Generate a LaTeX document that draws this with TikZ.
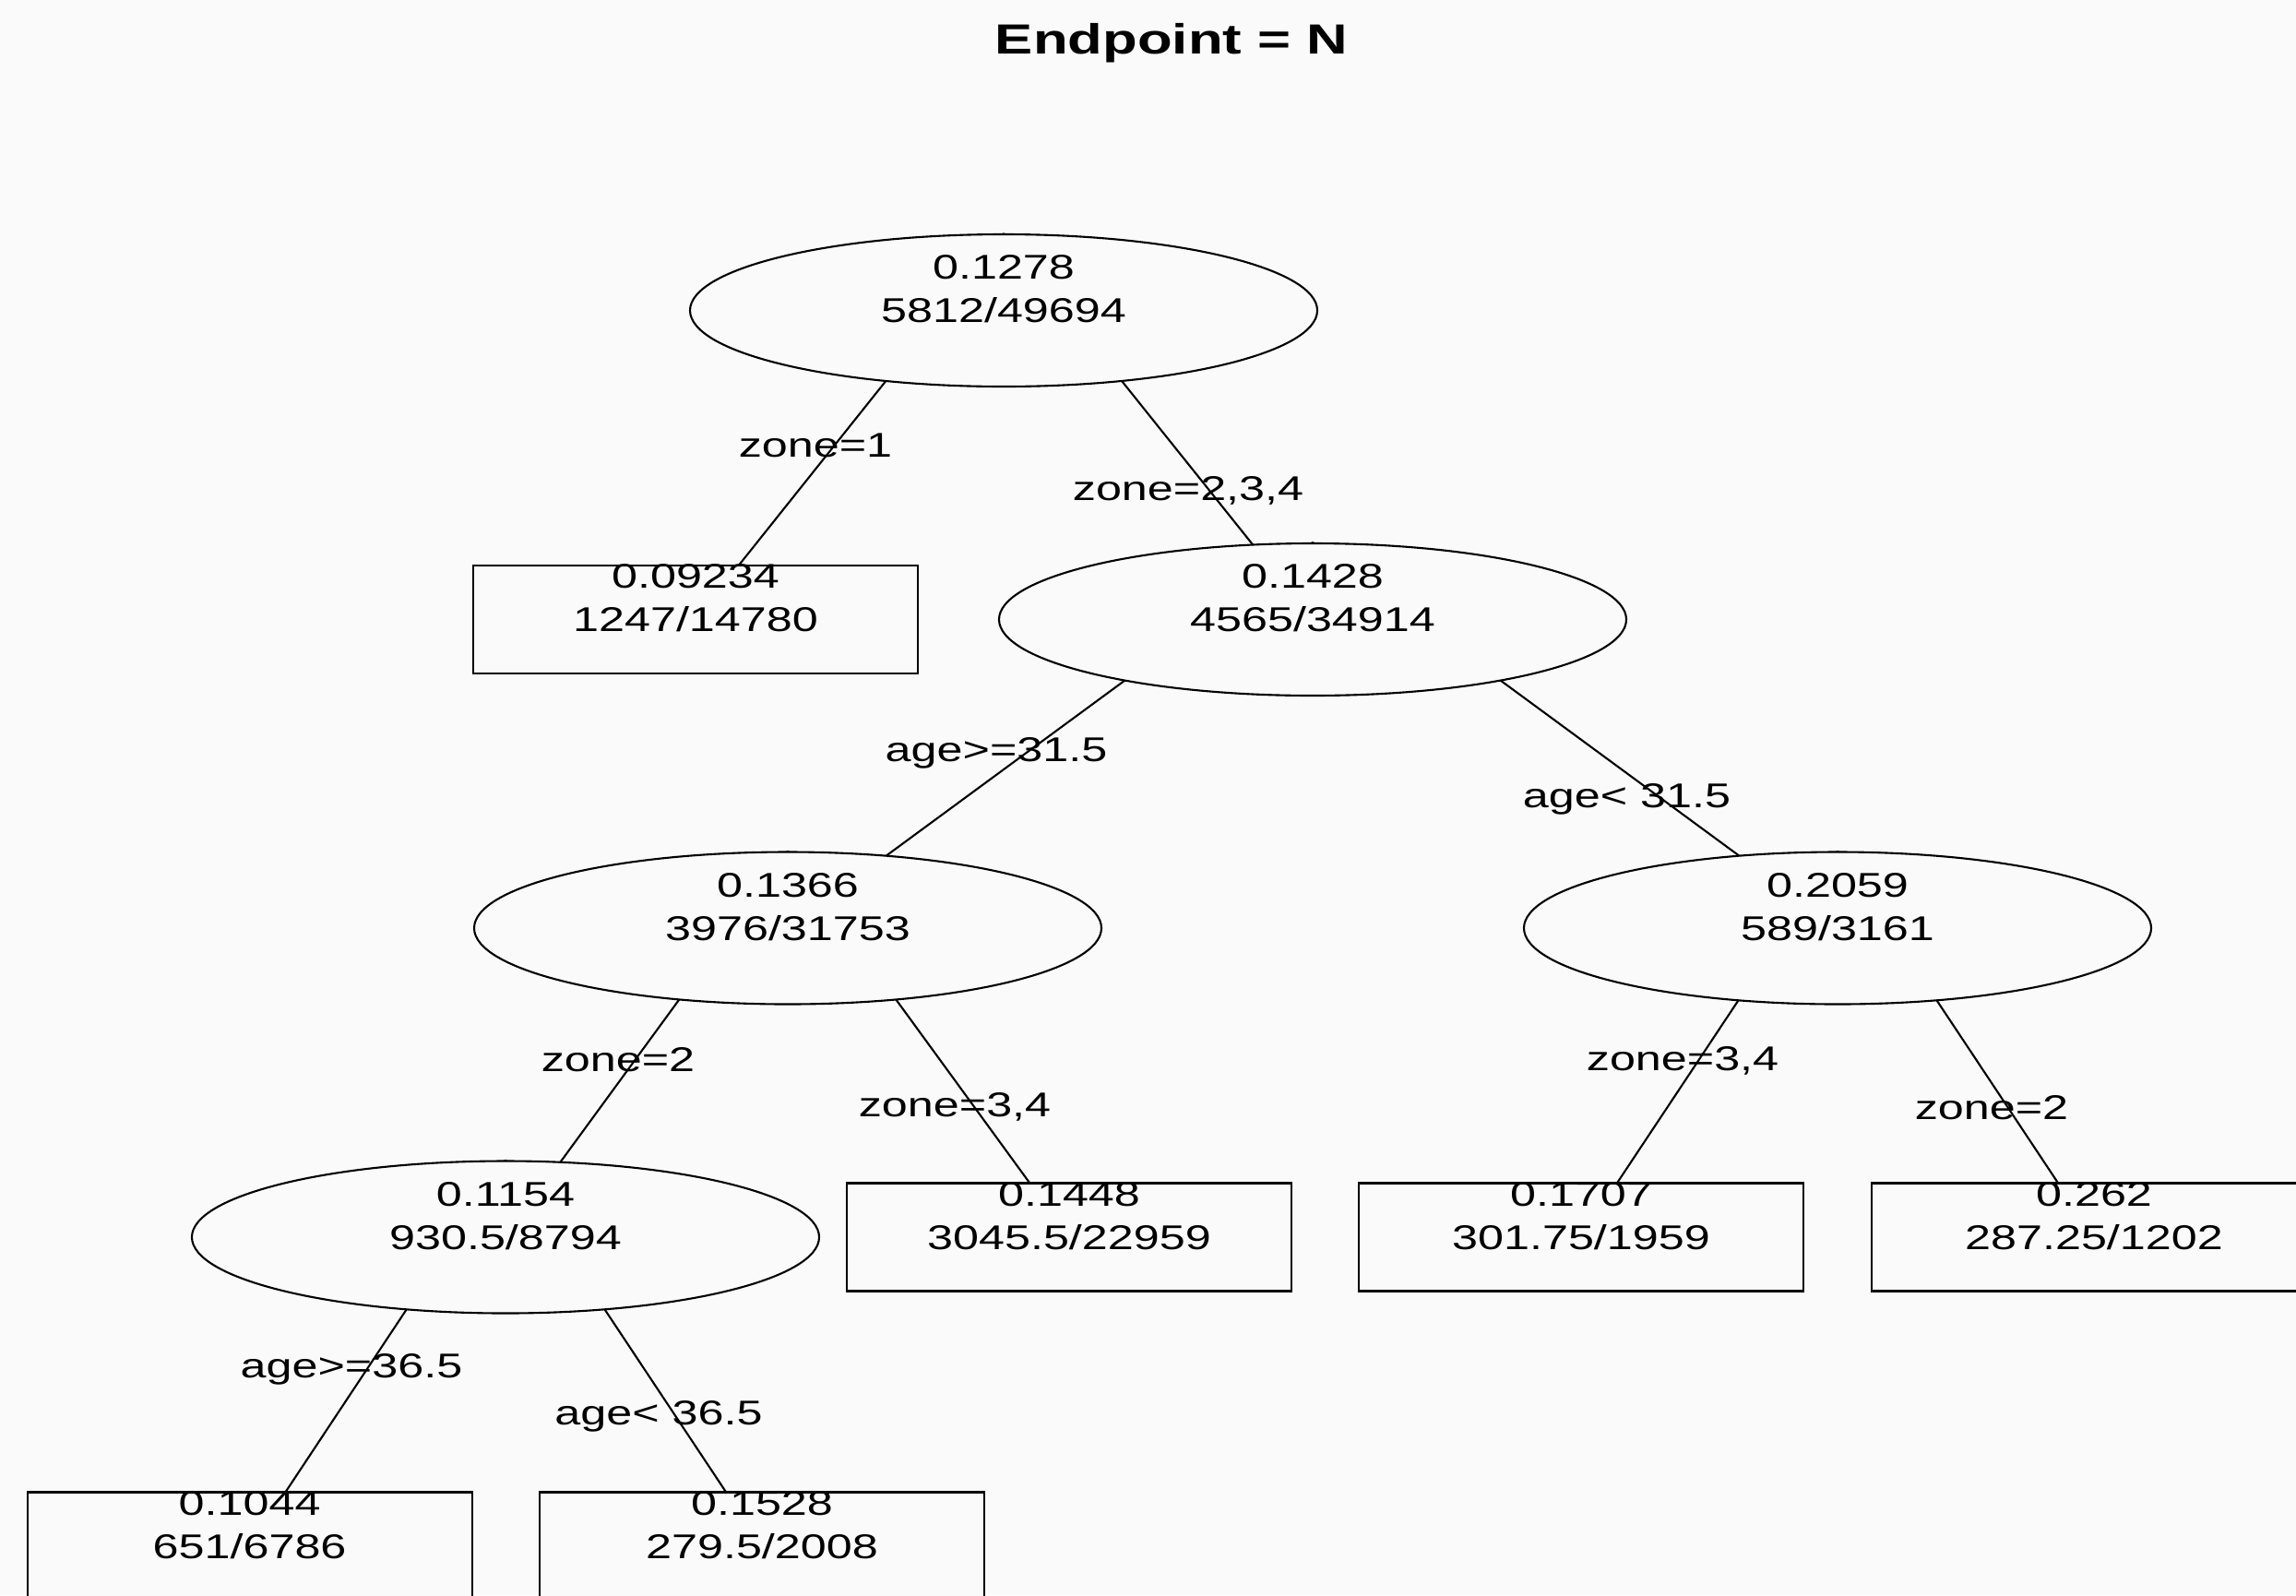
\documentclass[tikz,border=0pt]{standalone}
\usepackage{fontspec}
\setmainfont{Liberation Sans}[FakeStretch=1.35]
\usepackage{tikz}
\usetikzlibrary{shapes.geometric,backgrounds}
\definecolor{paper}{RGB}{250,250,250}

\begin{document}
\begin{tikzpicture}[
    ebox/.style={draw, ellipse, fill=paper, line width=0.6pt, inner sep=0pt, minimum width=6.8cm, minimum height=1.65cm, align=center, text height=11.6pt, text depth=4pt, font=\fontsize{10.6}{13.36}\selectfont},
    rbox/.style={draw, rectangle, fill=paper, line width=0.6pt, inner sep=0pt, minimum width=4.82cm, minimum height=1.17cm, align=center, text height=11.6pt, text depth=4pt, font=\fontsize{10.6}{13.36}\selectfont},
    lbl/.style={anchor=base, inner sep=0pt, font=\fontsize{10.6}{13.36}\selectfont},
    link/.style={line width=0.6pt}
]
\useasboundingbox (0,0) rectangle (24.89,-17.29);
\node[anchor=base, inner sep=0pt, font=\fontsize{13}{15.6}\selectfont\bfseries] (title) at (12.70,-0.58) {Endpoint = N};

\node[ebox] (root) at (10.88,-3.365) {0.1278\\5812/49694};
\node[rbox] (zoneone) at (7.54,-6.715) {0.09234\\1247/14780};
\node[ebox] (zoneother) at (14.23,-6.715) {0.1428\\4565/34914};
\node[ebox] (older) at (8.54,-10.06) {0.1366\\3976/31753};
\node[ebox] (younger) at (19.92,-10.06) {0.2059\\589/3161};
\node[ebox] (oldertwo) at (5.48,-13.41) {0.1154\\930.5/8794};
\node[rbox] (olderrest) at (11.59,-13.41) {0.1448\\3045.5/22959};
\node[rbox] (youngerrest) at (17.14,-13.41) {0.1707\\301.75/1959};
\node[rbox] (youngertwo) at (22.70,-13.41) {0.262\\287.25/1202};
\node[rbox] (oldest) at (2.706,-16.76) {0.1044\\651/6786};
\node[rbox] (middle) at (8.26,-16.76) {0.1528\\279.5/2008};

\node[lbl] (cutzoneone) at (8.84,-4.95) {zone=1};
\node[lbl] (cutzoneother) at (12.88,-5.42) {zone=2,3,4};
\node[lbl] (cutolder) at (10.80,-8.25) {age>=31.5};
\node[lbl] (cutyounger) at (17.635,-8.75) {age< 31.5};
\node[lbl] (cutoldertwo) at (6.70,-11.61) {zone=2};
\node[lbl] (cutolderrest) at (10.35,-12.105) {zone=3,4};
\node[lbl] (cutyoungerrest) at (18.24,-11.60) {zone=3,4};
\node[lbl] (cutyoungertwo) at (21.59,-12.135) {zone=2};
\node[lbl] (cutoldest) at (3.81,-14.93) {age>=36.5};
\node[lbl] (cutmiddle) at (7.14,-15.44) {age< 36.5};

\begin{scope}[on background layer]
\fill[paper] (0,0) rectangle (24.89,-17.29);
\draw[link] (root.north) -- (zoneone.center);
\draw[link] (root.north) -- (zoneother.center);
\draw[link] (zoneother.north) -- (older.center);
\draw[link] (zoneother.north) -- (younger.center);
\draw[link] (older.north) -- (oldertwo.center);
\draw[link] (older.north) -- (olderrest.center);
\draw[link] (younger.north) -- (youngerrest.center);
\draw[link] (younger.north) -- (youngertwo.center);
\draw[link] (oldertwo.north) -- (oldest.center);
\draw[link] (oldertwo.north) -- (middle.center);
\end{scope}
\end{tikzpicture}
\end{document}
